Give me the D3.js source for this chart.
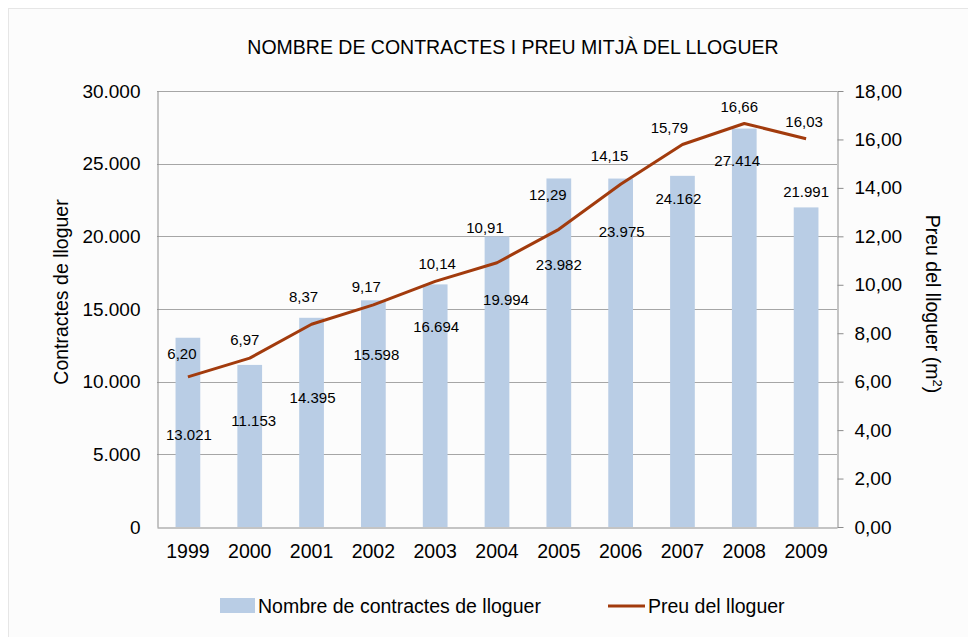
<!DOCTYPE html>
<html>
<head>
<meta charset="utf-8">
<script src="https://cdn.jsdelivr.net/npm/d3@7"></script>
<style>
  html, body { margin: 0; padding: 0; background: #ffffff; }
  svg { display: block; font-family: "Liberation Sans", Arial, sans-serif; }
</style>
</head>
<body>
<svg id="chart" width="968" height="637"></svg>
<script>
// ---- Data ----
const years = ["1999","2000","2001","2002","2003","2004","2005","2006","2007","2008","2009"];
const contracts = [13021, 11153, 14395, 15598, 16694, 19994, 23982, 23975, 24162, 27414, 21991];
const prices = [6.20, 6.97, 8.37, 9.17, 10.14, 10.91, 12.29, 14.15, 15.79, 16.66, 16.03];
const leftTicks = [0, 5000, 10000, 15000, 20000, 25000, 30000];
const rightTicks = [0, 2, 4, 6, 8, 10, 12, 14, 16, 18];

// ---- Layout (label nudges, px) ----
const barLabelDy = [97, 56, 80, 54, 42, 63, 86, 53, 23, 32, -16];
const barLabelDx = [1, 4, 1, 3, 1, 9, 0, 1, -4, -7, 0];
const priceLabelDy = [-23, -18, -28, -18, -18, -35, -35, -29, -17, -17, -17];
const priceLabelDx = [-6, -5, -8, -7, 2, -12, -11, -11, -13, -5, -2];

const barColor = "#b9cde5";
const lineColor = "#a23b0d";
const gridColor = "#a6a6a6";
const axisColor = "#8c8c8c";
const FONT = "Liberation Sans, Arial, sans-serif";

const svg = d3.select("#chart");
const W = 968, H = 637;
const m = { left: 157, right: 837, top: 91, bottom: 527 };

// background frame
svg.append("rect").attr("x", 8.5).attr("y", 8.5).attr("width", W).attr("height", H)
  .attr("fill", "#fcfcfc").attr("stroke", "#e6e6e6").attr("stroke-width", 1);

const loc = d3.formatLocale({ decimal: ",", thousands: ".", grouping: [3], currency: ["", "€"] });
const fmtThousands = loc.format(",d");
const fmtDec = loc.format(".2f");

const x = d3.scaleBand().domain(years).range([m.left, m.right]).paddingInner(0.6).paddingOuter(0.3);
const yL = d3.scaleLinear().domain([0, 30000]).range([m.bottom, m.top]);
const yR = d3.scaleLinear().domain([0, 18]).range([m.bottom, m.top]);

// title
svg.append("text").attr("x", 513).attr("y", 54).attr("text-anchor", "middle")
  .attr("font-size", 19.5).attr("fill", "#000").text("NOMBRE DE CONTRACTES I PREU MITJÀ DEL LLOGUER");

// gridlines
svg.append("g").selectAll("line").data(leftTicks.filter(d => d > 0)).join("line")
  .attr("x1", m.left).attr("x2", m.right)
  .attr("y1", d => Math.round(yL(d)) + 0.5).attr("y2", d => Math.round(yL(d)) + 0.5)
  .attr("stroke", gridColor).attr("stroke-width", 1);

// bars
svg.append("g").selectAll("rect").data(years).join("rect")
  .attr("x", d => x(d)).attr("width", x.bandwidth())
  .attr("y", (d, i) => yL(contracts[i])).attr("height", (d, i) => m.bottom - yL(contracts[i]))
  .attr("fill", barColor);

// left axis
const gL = svg.append("g").attr("transform", `translate(${m.left + 0.5},0)`)
  .call(d3.axisLeft(yL).tickValues(leftTicks).tickFormat(fmtThousands).tickSize(0).tickPadding(17));
gL.select(".domain").attr("stroke", axisColor);
gL.selectAll("text").attr("font-size", 19).attr("fill", "#000").attr("font-family", FONT);

// right axis
const gR = svg.append("g").attr("transform", `translate(${m.right + 0.5},0)`)
  .call(d3.axisRight(yR).tickValues(rightTicks).tickFormat(fmtDec).tickSizeInner(6).tickSizeOuter(0).tickPadding(11));
gR.select(".domain").attr("stroke", axisColor);
gR.selectAll("line").attr("stroke", axisColor);
gR.selectAll("text").attr("font-size", 19).attr("fill", "#000").attr("font-family", FONT);

// bottom axis
const gB = svg.append("g").attr("transform", `translate(0,${m.bottom + 0.5})`)
  .call(d3.axisBottom(x).tickSize(0).tickPadding(17));
gB.select(".domain").attr("stroke", axisColor);
gB.selectAll("text").attr("font-size", 19.5).attr("fill", "#000").attr("font-family", FONT);

// line
const line = d3.line().x((d, i) => x(years[i]) + x.bandwidth() / 2).y(d => yR(d));
svg.append("path").datum(prices).attr("d", line)
  .attr("fill", "none").attr("stroke", lineColor).attr("stroke-width", 3).attr("stroke-linejoin", "round");

// bar labels
svg.append("g").selectAll("text").data(years).join("text")
  .attr("x", (d, i) => x(d) + x.bandwidth() / 2 + barLabelDx[i])
  .attr("y", (d, i) => yL(contracts[i]) + barLabelDy[i])
  .attr("dy", "0.35em").attr("text-anchor", "middle").attr("font-size", 15).attr("fill", "#000")
  .text((d, i) => fmtThousands(contracts[i]));

// price labels
svg.append("g").selectAll("text").data(years).join("text")
  .attr("x", (d, i) => x(d) + x.bandwidth() / 2 + priceLabelDx[i])
  .attr("y", (d, i) => yR(prices[i]) + priceLabelDy[i])
  .attr("dy", "0.35em").attr("text-anchor", "middle").attr("font-size", 15).attr("fill", "#000")
  .text((d, i) => fmtDec(prices[i]));

// axis titles
svg.append("text").attr("transform", "translate(68,292) rotate(-90)").attr("text-anchor", "middle")
  .attr("font-size", 19.5).attr("fill", "#000").text("Contractes de lloguer");
const rt = svg.append("text").attr("transform", "translate(926,304) rotate(90)").attr("text-anchor", "middle")
  .attr("font-size", 19.5).attr("fill", "#000");
rt.append("tspan").text("Preu del lloguer (m");
rt.append("tspan").attr("font-size", 13).attr("dy", -7).text("2");
rt.append("tspan").attr("dy", 7).text(")");

// legend
const lg = svg.append("g");
lg.append("rect").attr("x", 220).attr("y", 598).attr("width", 35).attr("height", 15).attr("fill", barColor);
lg.append("text").attr("x", 258).attr("y", 606).attr("dy", "0.35em").attr("font-size", 19.5).attr("fill", "#000")
  .text("Nombre de contractes de lloguer");
lg.append("line").attr("x1", 608).attr("x2", 645).attr("y1", 606).attr("y2", 606)
  .attr("stroke", lineColor).attr("stroke-width", 3);
lg.append("text").attr("x", 648).attr("y", 606).attr("dy", "0.35em").attr("font-size", 19.5).attr("fill", "#000")
  .text("Preu del lloguer");
</script>
</body>
</html>
